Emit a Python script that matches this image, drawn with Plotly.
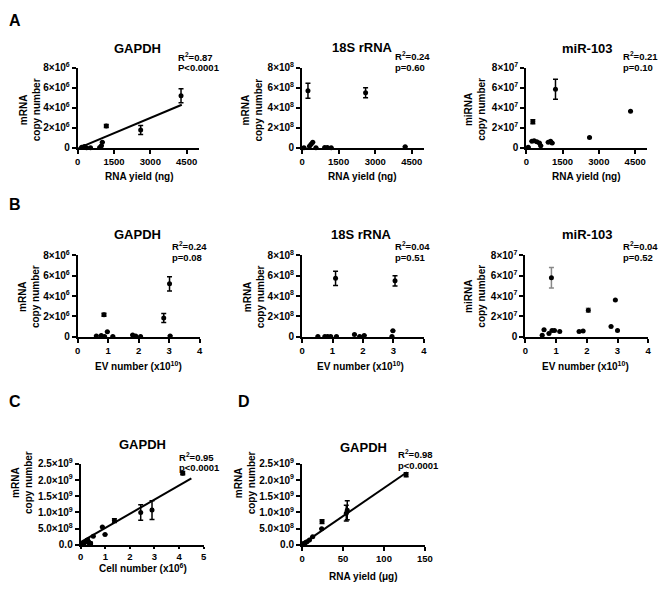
import plotly.graph_objects as go

W, H = 671, 594

# ---------------- data ----------------
# Panel A: copy number vs RNA yield (ng)
A_gapdh_x = [163, 272, 366, 528, 907, 976, 1016, 1179, 2600, 4268]
A_gapdh_y = [0.07e6, 0.13e6, 0.0, 0.0, 0.03e6, 0.22e6, 0.55e6, 2.18e6, 1.79e6, 5.2e6]
A_gapdh_err = [0, 0, 0, 0, 0, 0, 0, 0.15e6, 0.45e6, 0.7e6]
A_gapdh_fit = [(0, -0.05e6), (4300, 4.3e6)]

A_18s_x = [244, 2606, 80, 306, 372, 439, 572, 931, 1037, 1197, 4229]
A_18s_y = [5.7e8, 5.5e8, 0, 0.16e8, 0.35e8, 0.55e8, 0, 0.03e8, 0.03e8, 0, 0.1e8]
A_18s_err = [0.75e8, 0.5e8, 0, 0, 0, 0, 0, 0, 0, 0, 0]

A_mir_x = [1207, 272, 2614, 4309, 232, 325, 435, 541, 597, 907, 1004, 1069, 80]
A_mir_y = [5.85e7, 2.6e7, 1.04e7, 3.65e7, 0.65e7, 0.71e7, 0.61e7, 0.49e7, 0.22e7, 0.55e7, 0.65e7, 0.49e7, 0.07e7]
A_mir_err = [1.0e7, 0.2e7, 0, 0, 0, 0, 0, 0, 0, 0, 0, 0, 0]

# Panel B: copy number vs EV number (x10^10)
B_gapdh_x = [0.61, 0.77, 0.88, 1.15, 1.8, 1.9, 2.06, 3.03, 0.97, 0.86, 2.82, 3.01]
B_gapdh_y = [0.06e6, 0.1e6, 0, 0, 0.16e6, 0.06e6, 0, 0.06e6, 0.48e6, 2.16e6, 1.84e6, 5.2e6]
B_gapdh_err = [0, 0, 0, 0, 0, 0, 0, 0, 0, 0.15e6, 0.45e6, 0.7e6]

B_18s_x = [0.52, 0.75, 0.84, 0.94, 1.13, 1.72, 1.89, 2.04, 2.95, 2.98, 1.1, 3.05]
B_18s_y = [0, 0, 0, 0, 0, 0.2e8, 0, 0.1e8, 0, 0.58e8, 5.74e8, 5.5e8]
B_18s_err = [0, 0, 0, 0, 0, 0, 0, 0, 0, 0, 0.7e8, 0.5e8]

B_mir_x = [0.85, 2.05, 2.93, 2.79, 3.0, 0.61, 0.55, 0.77, 0.87, 0.95, 1.12, 1.75, 1.88]
B_mir_y = [5.8e7, 2.6e7, 3.6e7, 1.0e7, 0.6e7, 0.67e7, 0.13e7, 0.3e7, 0.6e7, 0.6e7, 0.5e7, 0.5e7, 0.55e7]
B_mir_err = [1.0e7, 0.2e7, 0, 0, 0, 0, 0, 0, 0, 0, 0, 0, 0]

# Panel C: GAPDH vs cell number (x10^6)
C_x = [4.15, 2.9, 2.44, 1.37, 0.88, 0.99, 0.51, 0.05, 0.1, 0.15, 0.2, 0.25, 0.3, 0.35, 0.4, 0.12, 0.28]
C_y = [2.21e9, 1.075e9, 1.0e9, 0.75e9, 0.55e9, 0.32e9, 0.27e9, 0.02e9, 0.05e9, 0.08e9, 0.1e9,
       0.12e9, 0.1e9, 0.06e9, 0.05e9, 0.03e9, 0.15e9]
C_err = [0.05e9, 0.29e9, 0.24e9, 0.06e9, 0, 0, 0, 0.03e9, 0.03e9, 0.03e9, 0.03e9, 0.03e9,
         0.03e9, 0.03e9, 0.03e9, 0.03e9, 0.03e9]
C_fit = [(0, 0.09e9), (4.5, 2.05e9)]

# Panel D: GAPDH vs RNA yield (ug)
D_x = [127, 55.2, 54, 24.4, 24, 13, 9, 6, 4, 3, 2, 1.5, 1, 0.5]
D_y = [2.16e9, 1.07e9, 0.98e9, 0.72e9, 0.5e9, 0.25e9, 0.15e9, 0.1e9, 0.07e9, 0.05e9, 0.04e9,
       0.03e9, 0.02e9, 0.01e9]
D_err = [0.06e9, 0.29e9, 0.24e9, 0.06e9, 0, 0, 0, 0.02e9, 0, 0, 0, 0, 0, 0]
D_fit = [(0, 0.02e9), (128, 2.24e9)]

# tick labels
yt_e6 = ["0", "2×10<sup>6</sup>", "4×10<sup>6</sup>", "6×10<sup>6</sup>", "8×10<sup>6</sup>"]
yt_e8 = ["0", "2×10<sup>8</sup>", "4×10<sup>8</sup>", "6×10<sup>8</sup>", "8×10<sup>8</sup>"]
yt_e7 = ["0", "2×10<sup>7</sup>", "4×10<sup>7</sup>", "6×10<sup>7</sup>", "8×10<sup>7</sup>"]
yt_e9 = ["0.0", "5.0×10<sup>8</sup>", "1.0×10<sup>9</sup>", "1.5×10<sup>9</sup>",
         "2.0×10<sup>9</sup>", "2.5×10<sup>9</sup>"]

FONT = "Liberation Sans, Arial, sans-serif"
fig = go.Figure()


def px_x(p):
    return p / W


def px_y(p):
    return 1 - p / H


panels = [
    dict(x=A_gapdh_x, y=A_gapdh_y, e=A_gapdh_err, fit=A_gapdh_fit, xd=(76, 199), yd=(62, 144),
         xr=[0, 5000], xt=[0, 1500, 3000, 4500], yr=[0, 8e6], yv=[0, 2e6, 4e6, 6e6, 8e6], ytt=yt_e6),
    dict(x=A_18s_x, y=A_18s_y, e=A_18s_err, fit=None, xd=(304, 428), yd=(62, 144),
         xr=[0, 5000], xt=[0, 1500, 3000, 4500], yr=[0, 8e8], yv=[0, 2e8, 4e8, 6e8, 8e8], ytt=yt_e8),
    dict(x=A_mir_x, y=A_mir_y, e=A_mir_err, fit=None, xd=(532, 655), yd=(62, 144),
         xr=[0, 5000], xt=[0, 1500, 3000, 4500], yr=[0, 8e7], yv=[0, 2e7, 4e7, 6e7, 8e7], ytt=yt_e7),
    dict(x=B_gapdh_x, y=B_gapdh_y, e=B_gapdh_err, fit=None, xd=(76, 200), yd=(254, 337),
         xr=[0, 4], xt=[0, 1, 2, 3, 4], yr=[0, 8e6], yv=[0, 2e6, 4e6, 6e6, 8e6], ytt=yt_e6),
    dict(x=B_18s_x, y=B_18s_y, e=B_18s_err, fit=None, xd=(304, 428), yd=(254, 337),
         xr=[0, 4], xt=[0, 1, 2, 3, 4], yr=[0, 8e8], yv=[0, 2e8, 4e8, 6e8, 8e8], ytt=yt_e8),
    dict(x=B_mir_x, y=B_mir_y, e=B_mir_err, fit=None, xd=(531, 656), yd=(254, 337), ec="#888888",
         xr=[0, 4], xt=[0, 1, 2, 3, 4], yr=[0, 8e7], yv=[0, 2e7, 4e7, 6e7, 8e7], ytt=yt_e7),
    dict(x=C_x, y=C_y, e=C_err, fit=C_fit, xd=(79, 204), yd=(467, 550), xtl=2,
         xr=[0, 5], xt=[0, 1, 2, 3, 4, 5], yr=[0, 2.5e9], yv=[0, 5e8, 1e9, 1.5e9, 2e9, 2.5e9], ytt=yt_e9),
    dict(x=D_x, y=D_y, e=D_err, fit=D_fit, xd=(304, 429), yd=(467, 550),
         xr=[0, 150], xt=[0, 50, 100, 150], yr=[0, 2.5e9], yv=[0, 5e8, 1e9, 1.5e9, 2e9, 2.5e9], ytt=yt_e9),
]

layout_axes = {}
for i, p in enumerate(panels, start=1):
    xa = "x" if i == 1 else f"x{i}"
    ya = "y" if i == 1 else f"y{i}"
    fig.add_trace(go.Scatter(
        x=p["x"], y=p["y"], mode="markers", xaxis=xa, yaxis=ya,
        marker=dict(color="black", size=5),
        error_y=dict(type="data", array=p["e"], visible=True, color=p.get("ec", "black"),
                     thickness=1.5, width=2.5),
        cliponaxis=False, showlegend=False, hoverinfo="skip"))
    if p["fit"]:
        fx = [pt[0] for pt in p["fit"]]
        fy = [pt[1] for pt in p["fit"]]
        fig.add_trace(go.Scatter(x=fx, y=fy, mode="lines", xaxis=xa, yaxis=ya,
                                 line=dict(color="black", width=2), cliponaxis=False,
                                 showlegend=False, hoverinfo="skip"))
    axcommon = dict(showline=True, linecolor="black", linewidth=2, ticks="outside",
                    tickwidth=2, tickcolor="black", showgrid=False, zeroline=False,
                    fixedrange=True)
    layout_axes["xaxis" if i == 1 else f"xaxis{i}"] = dict(
        domain=[px_x(p["xd"][0]), px_x(p["xd"][1])], range=p["xr"], tickvals=p["xt"],
        ticktext=[str(v) for v in p["xt"]], anchor=ya, ticklen=p.get("xtl", 4),
        tickfont=dict(family=FONT, size=9.5, color="black", weight="bold"), **axcommon)
    layout_axes["yaxis" if i == 1 else f"yaxis{i}"] = dict(
        domain=[px_y(p["yd"][1]), px_y(p["yd"][0])], range=p["yr"], tickvals=p["yv"],
        ticktext=p["ytt"], anchor=xa, ticklen=4,
        tickfont=dict(family=FONT, size=10, color="black", weight="bold"), **axcommon)

ann = []


def text(x, y, s, size, xanchor="center", angle=0):
    ann.append(dict(x=x / W, y=1 - y / H, xref="paper", yref="paper", text=s, showarrow=False,
                    xanchor=xanchor, yanchor="middle", textangle=angle,
                    font=dict(family=FONT, size=size, color="black", weight="bold")))


# panel letters
for s, x, y in [("A", 12, 14), ("B", 12, 202), ("C", 12, 403), ("D", 245, 403)]:
    text(x, y, s, 16)

# titles
for s, x, y in [("GAPDH", 137, 42), ("18S rRNA", 365, 41), ("miR-103", 594, 42),
                ("GAPDH", 137, 233), ("18S rRNA", 364, 233), ("miR-103", 594, 233),
                ("GAPDH", 142, 447), ("GAPDH", 367, 450)]:
    text(x, y, s, 13)

# stats
for s1, s2, x, y1, y2 in [("R<sup>2</sup>=0.87", "P&lt;0.0001", 176, 51, 62),
                          ("R<sup>2</sup>=0.24", "p=0.60", 397, 50, 62),
                          ("R<sup>2</sup>=0.21", "p=0.10", 628, 50, 62),
                          ("R<sup>2</sup>=0.24", "p=0.08", 170, 244, 256),
                          ("R<sup>2</sup>=0.04", "p=0.51", 397, 244, 256),
                          ("R<sup>2</sup>=0.04", "p=0.52", 628, 244, 256),
                          ("R<sup>2</sup>=0.95", "p&lt;0.0001", 177, 460, 471),
                          ("R<sup>2</sup>=0.98", "p&lt;0.0001", 400, 457, 469)]:
    text(x, y1, s1, 9.5, xanchor="left")
    text(x, y2, s2, 9.5, xanchor="left")

# x axis titles
for s, x, y in [("RNA yield (ng)", 139, 173), ("RNA yield (ng)", 365, 173), ("RNA yield (ng)", 593, 173),
                ("EV number (x10<sup>10</sup>)", 138, 367), ("EV number (x10<sup>10</sup>)", 363, 367),
                ("EV number (x10<sup>10</sup>)", 592, 367),
                ("Cell number (x10<sup>6</sup>)", 142, 574), ("RNA yield (μg)", 367, 582)]:
    text(x, y, s, 10)

# y axis titles
for s, x, y in [("mRNA<br>copy number", 27, 105), ("mRNA<br>copy number", 253, 105),
                ("miRNA<br>copy number", 480, 105),
                ("mRNA<br>copy number", 26, 296), ("mRNA<br>copy number", 255, 296),
                ("miRNA<br>copy number", 479, 296),
                ("mRNA<br>copy number", 20, 486), ("mRNA<br>copy number", 246, 486)]:
    text(x, y, s, 10, angle=-90)

fig.update_layout(width=W, height=H, margin=dict(l=0, r=0, t=0, b=0),
                  paper_bgcolor="white", plot_bgcolor="white", annotations=ann,
                  font=dict(family=FONT, color="black"), **layout_axes)

fig.write_html("out.html", config={"displayModeBar": False},
               post_script="document.body.style.margin='0';document.body.style.overflow='hidden';")
